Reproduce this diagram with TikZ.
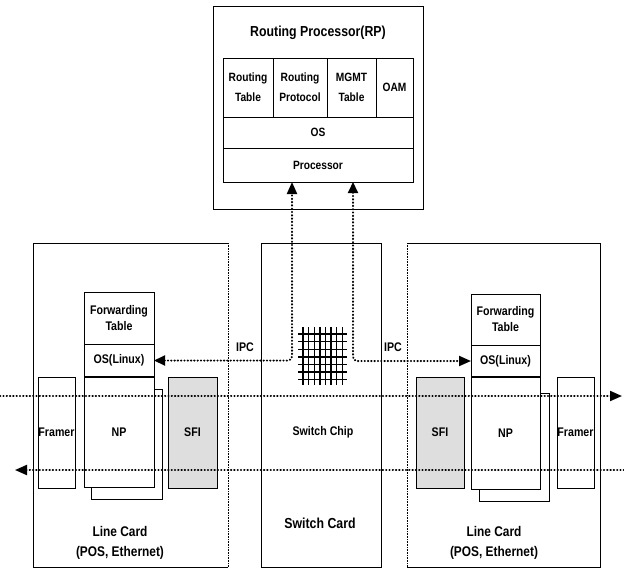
\documentclass[tikz,border=0pt]{standalone}
\usepackage{fontspec}
\setmainfont[FakeStretch=0.85]{Liberation Sans}
\usetikzlibrary{arrows.meta}
\begin{document}
\begin{tikzpicture}[x=1pt,y=-1pt,
  blk/.style={draw, line width=0.7pt, inner sep=0pt, outer sep=0pt, fill=white,
    font=\bfseries\fontsize{12.5}{16}\selectfont, align=center, anchor=north west},
  rpblk/.style={blk, font=\bfseries\fontsize{12}{20}\selectfont},
  area/.style={inner sep=0pt, outer sep=0pt, anchor=north west},
  edge/.style={line width=0.8pt},
  thinedge/.style={line width=0.6pt, densely dotted},
  txt/.style={inner sep=0pt, font=\bfseries\fontsize{12.5}{14}\selectfont, align=center},
  big/.style={inner sep=0pt, font=\bfseries\fontsize{14.5}{20}\selectfont, align=center},
  dotl/.style={line width=2pt, line cap=round, dash pattern=on 0.4pt off 2.9pt},
  tip/.style={-{Triangle[length=12pt,width=10pt]}},
  tipb/.style={{Triangle[length=11pt,width=10pt]}-{Triangle[length=12pt,width=10pt]}},
  gridl/.style={line width=1.4pt}
]
\useasboundingbox (0,0) rectangle (624,571);

% ---------- cards ----------
\node[area, minimum width=195, minimum height=324] (lc) at (33,243) {};
\node[area, minimum width=120, minimum height=324] (sc) at (261,243) {};
\node[area, minimum width=193, minimum height=324] (rc) at (407,243) {};
\draw[edge] (lc.north east) -- (lc.north west) -- (lc.south west) -- (lc.south east);
\draw[thinedge] (lc.north east) -- (lc.south east);
\draw[edge] (sc.north west) rectangle (sc.south east);
\draw[edge] (rc.north west) -- (rc.north east) -- (rc.south east) -- (rc.south west);
\draw[thinedge] (rc.north west) -- (rc.south west);

% ---------- routing processor ----------
\node[area, draw, line width=0.9pt, minimum width=210, minimum height=203] (rp) at (213,6) {};
\node[big] (rptitle) at (318,33) {Routing Processor(RP)};
\node[rpblk, minimum width=50, minimum height=59] (rt1) at (223,58) {Routing\\Table};
\node[rpblk, minimum width=54, minimum height=59] (rt2) at (273,58) {Routing\\Protocol};
\node[rpblk, minimum width=49, minimum height=59] (rt3) at (327,58) {MGMT\\Table};
\node[rpblk, minimum width=37, minimum height=59] (rt4) at (376,58) {OAM};
\node[rpblk, minimum width=190, minimum height=31] (rpos) at (223,117) {OS};
\node[rpblk, minimum width=190, minimum height=34] (proc) at (223,148) {Processor};
\path (proc.south west) ++(69,0) coordinate (pL) ++(61,0) coordinate (pR);

% ---------- left line card ----------
\node[blk, minimum width=70, minimum height=52] (ftL) at (84,292) {Forwarding\\Table};
\node[blk, minimum width=70, minimum height=33] (osL) at (84,344) {OS(Linux)};
\node[blk, minimum width=71, minimum height=110] (npshL) at (91,389) {};
\node[blk, minimum width=70, minimum height=110] (npL) at (84,377) {NP};
\draw[line width=2.2pt] (npL.north west) -- (npL.north east);
\node[blk, minimum width=37, minimum height=111] (frL) at (38,377) {Framer};
\node[blk, fill=black!13, minimum width=49, minimum height=111] (sfiL) at (168,377) {SFI};
\node[big, font=\bfseries\fontsize{14}{20}\selectfont] (lcl) at (120,543) {Line Card\\(POS, Ethernet)};

% ---------- right line card ----------
\node[blk, minimum width=69, minimum height=51] (ftR) at (471,294) {Forwarding\\Table};
\node[blk, minimum width=69, minimum height=32] (osR) at (471,345) {OS(Linux)};
\node[blk, minimum width=70, minimum height=108] (npshR) at (479,393) {};
\node[blk, minimum width=69, minimum height=112] (npR) at (471,377) {NP};
\draw[line width=2.2pt] (npR.north west) -- (npR.north east);
\node[blk, fill=black!13, minimum width=48, minimum height=111] (sfiR) at (416,377) {SFI};
\node[blk, minimum width=37, minimum height=111] (frR) at (557,377) {Framer};
\node[big, font=\bfseries\fontsize{14}{20}\selectfont] (rcl) at (494,543) {Line Card\\(POS, Ethernet)};

% ---------- switch card ----------
\node[area, minimum width=49, minimum height=58] (grid) at (298,327) {};
\begin{scope}[shift={(grid.north west)}]
  \foreach \i in {0,...,7} \draw[gridl] (5+\i*5.6,0) -- (5+\i*5.6,58);
  \foreach \j in {0,...,6} \draw[gridl] (0,7+\j*7.6) -- (49,7+\j*7.6);
\end{scope}
\node[txt] (chip) at (323,432) {Switch Chip};
\node[big] (scl) at (320,523) {Switch Card};
\node[txt] (ipcL) at (245,347) {IPC};
\node[txt] (ipcR) at (393,347) {IPC};

% ---------- IPC connectors ----------
\draw[dotl, tipb, rounded corners=4pt] (osL.east) -| (pL);
\draw[dotl, tipb, rounded corners=4pt] (pR) |- (osR.west);

% ---------- data path ----------
\coordinate (d1s) at (0,396);
\coordinate (d1e) at (622,396);
\coordinate (d2s) at (624,470);
\coordinate (d2e) at (15,470);
\draw[dotl, tip] (d1s) -- (d1e);
\draw[dotl, tip] (d2s) -- (d2e);
\end{tikzpicture}
\end{document}
